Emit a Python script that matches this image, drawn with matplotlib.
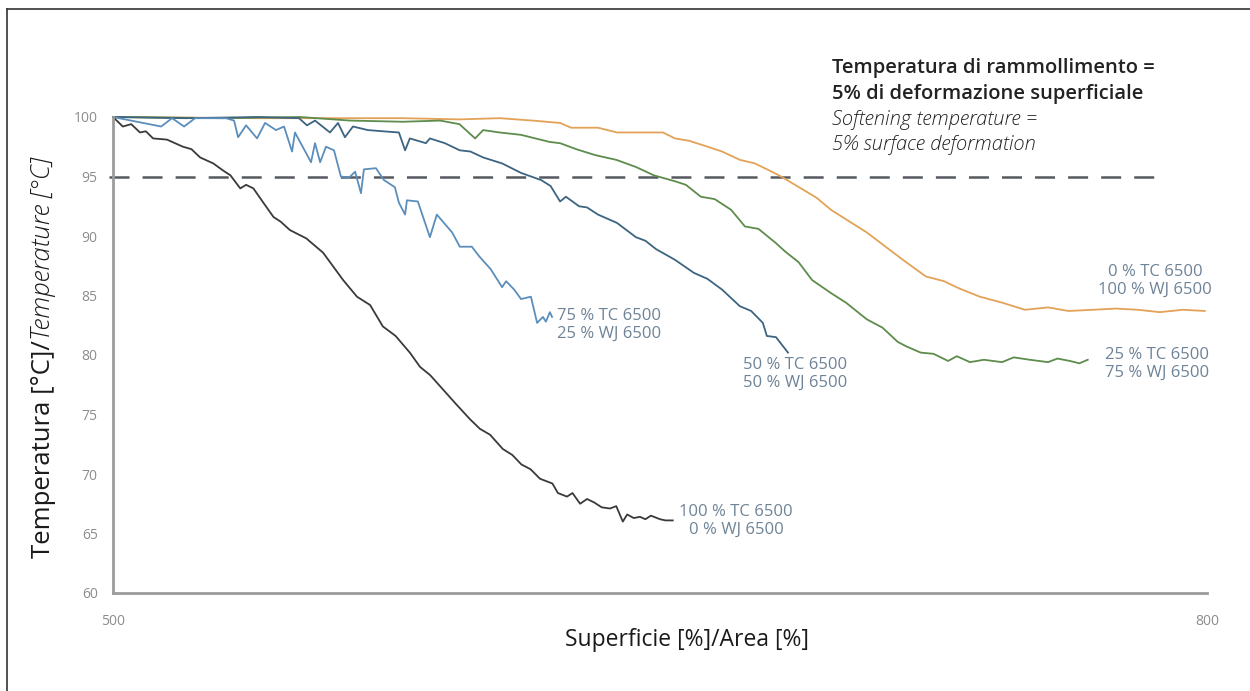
import matplotlib
matplotlib.use("Agg")
import matplotlib.pyplot as plt
from matplotlib.lines import Line2D

plt.rcParams["font.family"] = ["Open Sans", "DejaVu Sans"]
plt.rcParams["lines.scale_dashes"] = False

# ---- data -------------------------------------------------------------
tc100_x = [500, 502.7, 505, 507.4, 509, 511, 514.8, 517, 519.2, 521.5, 523.9, 527.5,
           530.2, 532.2, 534.9, 536.5, 538.5, 541, 544, 546, 548.5, 553, 557.6, 560,
           563.1, 566.9, 570.5, 574, 577.5, 581.4, 584.2, 587, 590.5, 594, 597.9,
           600.6, 603.4, 606.9, 609.5, 612, 614.5, 617.1, 620.5, 622, 624.5, 626,
           628.1, 630, 632, 634, 636.3, 638, 639.8, 641, 642.8, 644.5, 646, 647.5,
           650, 651.5, 653.5]
tc100_y = [100, 99.2, 99.4, 98.7, 98.8, 98.2, 98.1, 97.8, 97.5, 97.3, 96.6, 96.1,
           95.5, 95.1, 94.0, 94.3, 94.0, 92.9, 91.6, 91.2, 90.5, 89.8, 88.6, 87.6,
           86.3, 84.9, 84.2, 82.4, 81.6, 80.2, 79.0, 78.3, 77.1, 75.9, 74.6,
           73.8, 73.3, 72.1, 71.6, 70.8, 70.4, 69.6, 69.2, 68.4, 68.1, 68.4,
           67.5, 67.9, 67.6, 67.2, 67.1, 67.3, 66.0, 66.6, 66.3, 66.4, 66.2, 66.5,
           66.2, 66.1, 66.1]

tc75_x = [500, 513.2, 516.2, 519.5, 522.5, 531.0, 533.2, 534.3, 536.5, 539.5, 541.7,
          544.7, 546.9, 549.1, 549.9, 554.3, 555.4, 556.8, 558.4, 560.6, 562.5, 564.7,
          566.4, 568.0, 568.8, 572.1, 574.3, 577.3, 578.4, 580.1, 580.6, 583.6,
          586.9, 588.8, 593.0, 595.1, 598.4, 600.4, 603.6, 606.7, 607.8, 610.0,
          611.9, 614.6, 616.3, 617.9, 618.7, 619.8, 620.4]
tc75_y = [100, 99.2, 99.9, 99.2, 99.9, 99.9, 99.7, 98.3, 99.3, 98.2, 99.5,
          98.9, 99.2, 97.1, 98.7, 96.2, 97.8, 96.2, 97.5, 97.2, 95.0, 94.9,
          95.4, 93.6, 95.6, 95.7, 94.7, 94.1, 92.8, 91.8, 93.0, 92.9,
          89.9, 91.8, 90.3, 89.1, 89.1, 88.3, 87.2, 85.7, 86.2, 85.5,
          84.7, 84.9, 82.7, 83.2, 82.8, 83.6, 83.2]

tc50_x = [500, 520, 540, 551.0, 553.2, 555.4, 559.5, 561.7, 563.6, 565.8, 569.9,
          574, 578.4, 580.1, 581.4, 585.8, 586.9, 591.0, 595.1, 598, 601.5, 606.7,
          611.9, 617.4, 620, 622.6, 624.2, 627.8, 630, 633.0, 638.2, 643.4, 646,
          648.9, 654.1, 659.3, 663, 667.0, 671.9, 675, 678.2, 679.3, 681.8, 685.1]
tc50_y = [100, 99.9, 100, 99.9, 99.3, 99.7, 98.7, 99.5, 98.3, 99.2, 98.9,
          98.8, 98.7, 97.2, 98.2, 97.8, 98.2, 97.8, 97.2, 97.1, 96.6, 96.1,
          95.3, 94.7, 94.2, 92.9, 93.3, 92.5, 92.4, 91.8, 91.1, 89.9, 89.6,
          88.9, 88.0, 86.9, 86.4, 85.5, 84.1, 83.7, 82.7, 81.6, 81.5, 80.2]

tc25_x = [500, 530, 551.3, 565, 579.5, 589.7, 595, 599.3, 601.5, 606, 611.9, 619.8,
          622.6, 627, 632.2, 638, 643.4, 648.3, 654.1, 657.1, 661.2, 665, 669.5,
          673.3, 677, 681.8, 684.3, 688, 691.7, 696.9, 701, 706.7, 711, 715.2,
          717.7, 721.5, 725, 729.0, 731.4, 735, 738.8, 743.8, 747, 751.4, 756.4,
          759, 762.4, 765, 767.3]
tc25_y = [100, 99.9, 100, 99.7, 99.6, 99.7, 99.4, 98.2, 98.9, 98.7, 98.5, 97.9,
          97.8, 97.3, 96.8, 96.4, 95.8, 95.1, 94.6, 94.3, 93.3, 93.1, 92.2,
          90.8, 90.6, 89.4, 88.7, 87.8, 86.3, 85.2, 84.4, 83.0, 82.3, 81.1,
          80.7, 80.2, 80.1, 79.5, 79.9, 79.4, 79.6, 79.4, 79.8, 79.6, 79.4,
          79.7, 79.5, 79.3, 79.6]

tc0_x = [500, 540, 579.5, 595, 606.1, 615, 622.6, 625.6, 633.0, 638.2, 643.4,
         650.8, 654.1, 658, 663.1, 667, 671.9, 676, 680.7, 683.2, 689.2, 693,
         696.9, 701, 706.7, 711, 716.6, 722.9, 727.9, 732, 737.7, 743.8, 750.1,
         756.4, 762, 768.7, 775, 781.1, 787, 793.4, 799.4]
tc0_y = [100, 99.9, 99.9, 99.8, 99.9, 99.7, 99.5, 99.1, 99.1, 98.7, 98.7,
         98.7, 98.2, 98.0, 97.5, 97.1, 96.4, 96.1, 95.4, 95.0, 93.9, 93.2,
         92.2, 91.4, 90.3, 89.3, 88.0, 86.6, 86.2, 85.6, 84.9, 84.4, 83.8,
         84.0, 83.7, 83.8, 83.9, 83.8, 83.6, 83.8, 83.7]

series_labels = [("100 % TC 6500", "0 % WJ 6500"),
                 ("75 % TC 6500", "25 % WJ 6500"),
                 ("50 % TC 6500", "50 % WJ 6500"),
                 ("25 % TC 6500", "75 % WJ 6500"),
                 ("0 % TC 6500", "100 % WJ 6500")]

y_ticks = [60, 65, 70, 75, 80, 85, 90, 95, 100]
x_ticks = [500, 800]
softening_level = 95

# ---- figure -----------------------------------------------------------
W, H = 1250, 691
fig = plt.figure(figsize=(W / 100, H / 100), dpi=100)
ax = fig.add_axes([113 / W, 1 - 593 / H, (1207 - 113) / W, (593 - 117) / H])
ax.set_xlim(500, 800)
ax.set_ylim(60, 100)

colors = {"tc0": "#e2a257", "tc25": "#5d8c4c", "tc50": "#3d6480",
          "tc75": "#5b8ebb", "tc100": "#3a3a3a"}
lw = 1.3
ax.plot(tc0_x, tc0_y, color=colors["tc0"], lw=lw, clip_on=False)
ax.plot(tc25_x, tc25_y, color=colors["tc25"], lw=lw, clip_on=False)
ax.plot(tc50_x, tc50_y, color=colors["tc50"], lw=lw, clip_on=False)
ax.plot(tc75_x, tc75_y, color=colors["tc75"], lw=lw, clip_on=False)
ax.plot(tc100_x, tc100_y, color=colors["tc100"], lw=lw, clip_on=False)

# softening threshold
ax.plot([499, 787], [softening_level, softening_level], color="#555a60",
        lw=1.8, dashes=(14.4, 9.4), clip_on=False, zorder=1)

for side in ["top", "right"]:
    ax.spines[side].set_visible(False)
for side in ["left", "bottom"]:
    ax.spines[side].set_color("#9c9c9c")
    ax.spines[side].set_linewidth(2)

ax.set_yticks(y_ticks)
ax.set_yticklabels([str(v) for v in y_ticks])
ax.set_xticks(x_ticks)
ax.set_xticklabels([str(v) for v in x_ticks])
ax.tick_params(axis="both", length=0, colors="#8c8c8c", labelsize=10)
ax.tick_params(axis="y", pad=11)
ax.tick_params(axis="x", pad=15)

# curve labels, one line at a time (pixel anchors: x, first-line y, alignment)
lab_color = "#6e8397"
anchors = [(736, 512, "center"), (557, 316, "left"), (795, 365, "center"),
           (1157, 355, "center"), (1155, 272, "center")]
for (l1, l2), (xp, yp, ha) in zip(series_labels, anchors):
    for k, line in enumerate((l1, l2)):
        fig.text(xp / W, 1 - (yp + 17.5 * k) / H, line, color=lab_color,
                 fontsize=12, ha=ha, va="center")

# annotation of the threshold
note_lines = [("Temperatura di rammollimento =", "semibold", "normal", 68),
              ("5% di deformazione superficiale", "semibold", "normal", 94),
              ("Softening temperature =", "light", "italic", 120),
              ("5% surface deformation", "light", "italic", 145)]
for txt, weight, style, ypx in note_lines:
    fig.text(832 / W, 1 - ypx / H, txt, fontsize=14.5, fontweight=weight,
             style=style, color="#222222", va="center")

# axis titles
fig.text(687 / W, 1 - 640 / H, "Superficie [%]/Area [%]", fontsize=16.5,
         color="#1a1a1a", ha="center", va="center")

fig.canvas.draw()
renderer = fig.canvas.get_renderer()
part1 = "Temperatura [°C]/"
part2 = "Temperature [°C]"
ysize = 18.5
probe1 = fig.text(0, 0, part1, fontsize=ysize)
probe2 = fig.text(0, 0, part2, fontsize=ysize, style="italic", fontweight="light")
w1 = probe1.get_window_extent(renderer).width
w2 = probe2.get_window_extent(renderer).width
probe1.remove()
probe2.remove()
cx, cy = 44, H - 358
start = cy - (w1 + w2) / 2
fig.text(cx / W, start / H, part1, fontsize=ysize, color="#1a1a1a", rotation=90,
         rotation_mode="anchor", ha="left", va="center")
fig.text(cx / W, (start + w1) / H, part2, fontsize=ysize, color="#1a1a1a",
         style="italic", fontweight="light", rotation=90, rotation_mode="anchor",
         ha="left", va="center")

# frame lines along the top and left edges
fig.add_artist(Line2D([6.5 / W, 6.5 / W], [0, 1 - 9 / H], transform=fig.transFigure,
                      color="#333333", lw=1.2))
fig.add_artist(Line2D([6.5 / W, 1], [1 - 9 / H, 1 - 9 / H], transform=fig.transFigure,
                      color="#333333", lw=1.2))

fig.savefig("out.png", dpi=100, facecolor="white")
